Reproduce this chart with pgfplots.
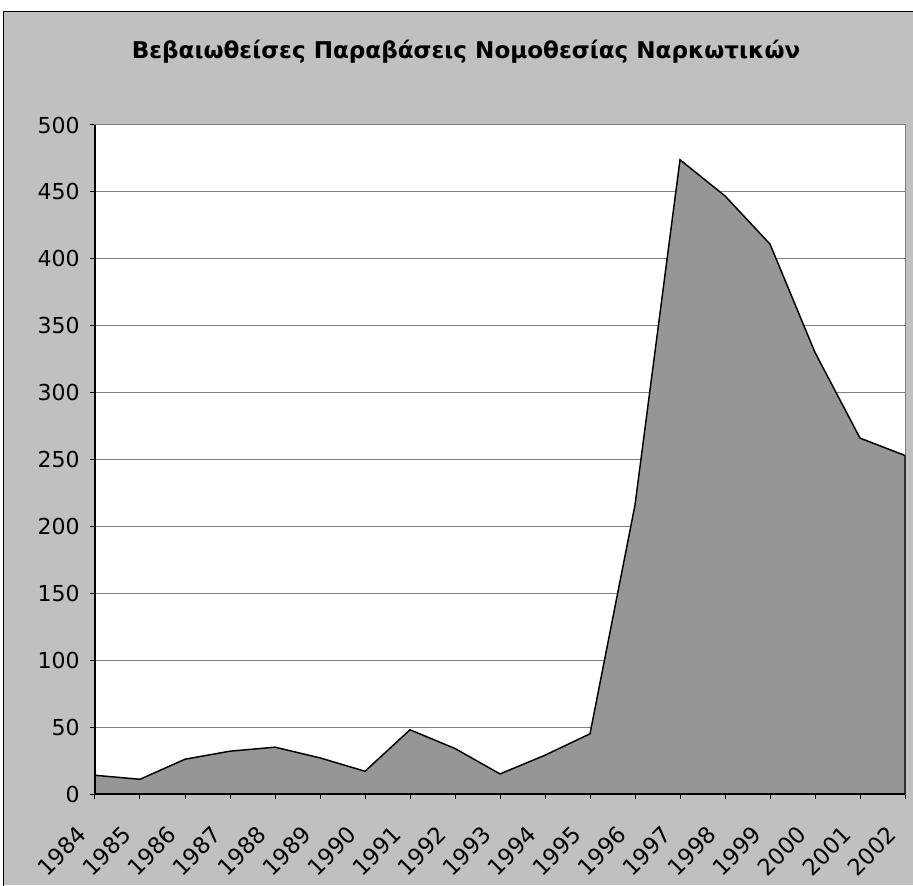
\documentclass[border=0pt]{standalone}
\usepackage{pgfplots}
\pgfplotsset{compat=1.18}
\usepackage{fontspec}
\setmainfont{DejaVu Sans}
\definecolor{bg}{RGB}{192,192,192}
\definecolor{area}{RGB}{150,150,150}
\definecolor{grid}{RGB}{128,128,128}
\begin{document}
\begin{tikzpicture}[x=0.75pt,y=0.75pt]
\useasboundingbox (-95,-91) rectangle (818,794);
\fill[bg] (-91,-91) rectangle (818,782);
\draw[black,line width=0.75pt] (-91,-95) -- (-91,782) -- (830,782);
\fill[white] (0,0) rectangle (810,669);
\node[font=\bfseries\fontsize{17.3}{20}\selectfont] at (371,742) {Βεβαιωθείσες Παραβάσεις Νομοθεσίας Ναρκωτικών};
\begin{axis}[
  at={(0,0)}, anchor=origin,
  scale only axis, width=607.5pt, height=501.75pt,
  xmin=0, xmax=18, ymin=0, ymax=500,
  axis line style={draw=grid, line width=0.75pt},
  xtick={0,...,18},
  xticklabels={1984,1985,1986,1987,1988,1989,1990,1991,1992,1993,1994,1995,1996,1997,1998,1999,2000,2001,2002},
  x tick label style={xshift=-7pt, yshift=-21pt, rotate=45, anchor=east, font=\fontsize{17}{19}\selectfont},
  ytick={0,50,...,500},
  y tick label style={xshift=-4pt, font=\fontsize{16.5}{19}\selectfont},
  /pgf/number format/assume math mode=true,
  ymajorgrids, grid style={draw=grid, line width=0.75pt},
  tick align=outside, tick style={black, line width=0.75pt},
  major tick length=4pt,
  xtick pos=bottom, ytick pos=left,
  clip=false,
]
\addplot[fill=area, draw=black, line width=1.1pt] coordinates {
(0,14) (1,11) (2,26) (3,32) (4,35) (5,27) (6,17) (7,48) (8,34) (9,15)
(10,29) (11,45) (12,216) (13,474) (14,447) (15,411) (16,330) (17,266) (18,253)
} \closedcycle;
\draw[black, line width=1.3pt] (axis cs:0,500) -- (axis cs:0,0) -- (axis cs:18,0);
\end{axis}
\end{tikzpicture}
\end{document}
